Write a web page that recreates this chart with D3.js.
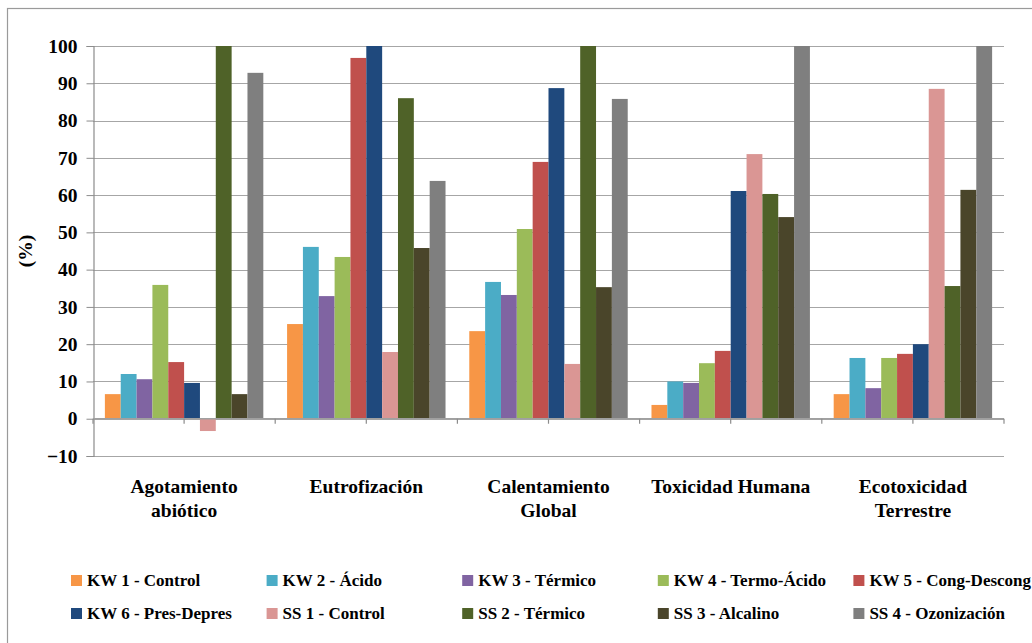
<!DOCTYPE html>
<html>
<head>
<meta charset="utf-8">
<script src="https://cdn.jsdelivr.net/npm/d3@7/dist/d3.min.js"></script>
<style>
  html, body { margin: 0; padding: 0; background: #fff; }
  svg { display: block; }
</style>
</head>
<body>
<svg id="chart" width="1032" height="643"></svg>
<script>
// Impact categories (two-line labels split with "\n")
const categories = [
  "Agotamiento\nabiótico",
  "Eutrofización",
  "Calentamiento\nGlobal",
  "Toxicidad Humana",
  "Ecotoxicidad\nTerrestre"
];

const seriesNames = [
  "KW 1 - Control", "KW 2 - Ácido", "KW 3 - Térmico", "KW 4 - Termo-Ácido", "KW 5 - Cong-Descong",
  "KW 6 - Pres-Depres", "SS 1 - Control", "SS 2 - Térmico", "SS 3 - Alcalino", "SS 4 - Ozonización"
];

const seriesColors = [
  "#F79646", "#4BACC6", "#8064A2", "#9BBB59", "#C0504D",
  "#1F497D", "#DA9694", "#4F6228", "#4A452A", "#7F7F7F"
];

// Relative impact (%) per series, one value per category
const kw1 = [6.6, 25.4, 23.5, 3.7, 6.6];
const kw2 = [12.0, 46.1, 36.7, 10.0, 16.3];
const kw3 = [10.6, 32.9, 33.2, 9.6, 8.2];
const kw4 = [35.9, 43.4, 50.9, 14.9, 16.3];
const kw5 = [15.2, 96.8, 68.9, 18.2, 17.4];
const kw6 = [9.6, 100, 88.7, 61.1, 20.0];
const ss1 = [-3.3, 17.9, 14.7, 71.0, 88.5];
const ss2 = [100, 86.0, 100, 60.3, 35.6];
const ss3 = [6.6, 45.8, 35.3, 54.1, 61.4];
const ss4 = [92.8, 63.8, 85.8, 100, 100];

const yTicks = [-10, 0, 10, 20, 30, 40, 50, 60, 70, 80, 90, 100];

const seriesValues = [kw1, kw2, kw3, kw4, kw5, kw6, ss1, ss2, ss3, ss4];

const FONT = "'Liberation Serif', Tinos, 'Times New Roman', 'Nimbus Roman', 'DejaVu Serif', serif";

const svg = d3.select("#chart");

// Outer chart frame
svg.append("rect")
  .attr("x", 7.5).attr("y", 8.5)
  .attr("width", 1040).attr("height", 660)
  .attr("fill", "#fff")
  .attr("stroke", "#9a9a9a")
  .attr("stroke-width", 1.2);

const plot = { left: 93, right: 1004, top: 46, bottom: 456 };

const y = d3.scaleLinear().domain([-10, 100]).range([plot.bottom, plot.top]);

const x0 = d3.scaleBand()
  .domain(d3.range(categories.length))
  .range([plot.left, plot.right])
  .padding(0);

const x1 = d3.scaleBand()
  .domain(d3.range(seriesNames.length))
  .range([0, x0.bandwidth()])
  .paddingInner(0)
  .paddingOuter(0.75);

// Horizontal gridlines
svg.append("g")
  .selectAll("line")
  .data(yTicks)
  .join("line")
  .attr("x1", plot.left).attr("x2", plot.right)
  .attr("y1", d => Math.round(y(d)) + 0.5)
  .attr("y2", d => Math.round(y(d)) + 0.5)
  .attr("stroke", "#a6a6a6")
  .attr("stroke-width", 1.2);

// Value axis
const yAxis = d3.axisLeft(y)
  .tickValues(yTicks)
  .tickSize(7)
  .tickPadding(9)
  .tickFormat(d3.format("d"));

const gy = svg.append("g")
  .attr("transform", `translate(${plot.left + 0.5},0)`)
  .call(yAxis)
  .attr("font-family", null)
  .attr("font-size", null);
gy.select(".domain").attr("stroke", "#8c8c8c").attr("stroke-width", 1.2);
gy.selectAll(".tick line").attr("stroke", "#8c8c8c");
gy.selectAll(".tick text")
  .style("font-family", FONT)
  .style("font-weight", "bold")
  .style("font-size", "19.5px")
  .attr("fill", "#000");

// Bars
const groups = svg.append("g")
  .selectAll("g")
  .data(seriesValues)
  .join("g")
  .attr("fill", (d, i) => seriesColors[i]);

groups.selectAll("rect")
  .data((vals, si) => vals.map((v, ci) => ({ v, ci, si })))
  .join("rect")
  .attr("x", d => x0(d.ci) + x1(d.si))
  .attr("width", x1.bandwidth())
  .attr("y", d => y(Math.max(0, d.v)))
  .attr("height", d => Math.abs(y(d.v) - y(0)));

// Category axis along zero, with marks at category edges and mid-points
const zeroY = y(0);
svg.append("line")
  .attr("x1", plot.left).attr("x2", plot.right)
  .attr("y1", zeroY).attr("y2", zeroY)
  .attr("stroke", "#a0a0a0")
  .attr("stroke-width", 1.5);

const tickXs = [];
for (let i = 0; i <= categories.length; i++) {
  tickXs.push(x0(0) + i * x0.step());
  if (i < categories.length) tickXs.push(x0(i) + x0.bandwidth() / 2);
}
svg.append("g")
  .selectAll("line")
  .data(tickXs)
  .join("line")
  .attr("x1", d => d).attr("x2", d => d)
  .attr("y1", zeroY).attr("y2", zeroY + 5)
  .attr("stroke", "#8c8c8c")
  .attr("stroke-width", 1.2);

// Category labels below the plot
const catLabels = svg.append("g")
  .selectAll("text")
  .data(categories)
  .join("text")
  .attr("x", (d, i) => x0(i) + x0.bandwidth() / 2)
  .attr("y", 493)
  .attr("text-anchor", "middle")
  .style("font-family", FONT)
  .style("font-weight", "bold")
  .style("font-size", "19.5px");

catLabels.selectAll("tspan")
  .data(d => d.split("\n"))
  .join("tspan")
  .attr("x", function () { return d3.select(this.parentNode).attr("x"); })
  .attr("dy", (d, i) => (i === 0 ? 0 : 24))
  .text(d => d);

// Value axis title
svg.append("text")
  .attr("transform", `translate(32,${(plot.top + plot.bottom) / 2}) rotate(-90)`)
  .attr("text-anchor", "middle")
  .style("font-family", FONT)
  .style("font-weight", "bold")
  .style("font-size", "19.5px")
  .text("(%)");

// Legend: two rows of five
const legendCols = 5;
const legend = svg.append("g")
  .selectAll("g")
  .data(seriesNames)
  .join("g")
  .attr("transform", (d, i) => {
    const col = i % legendCols;
    const row = Math.floor(i / legendCols);
    return `translate(${71 + col * 195.6},${575 + row * 33})`;
  });

legend.append("rect")
  .attr("width", 11).attr("height", 11)
  .attr("fill", (d, i) => seriesColors[i]);

legend.append("text")
  .attr("x", 16)
  .attr("y", 11)
  .style("font-family", FONT)
  .style("font-weight", "bold")
  .style("font-size", "17px")
  .text(d => d);
</script>
</body>
</html>
